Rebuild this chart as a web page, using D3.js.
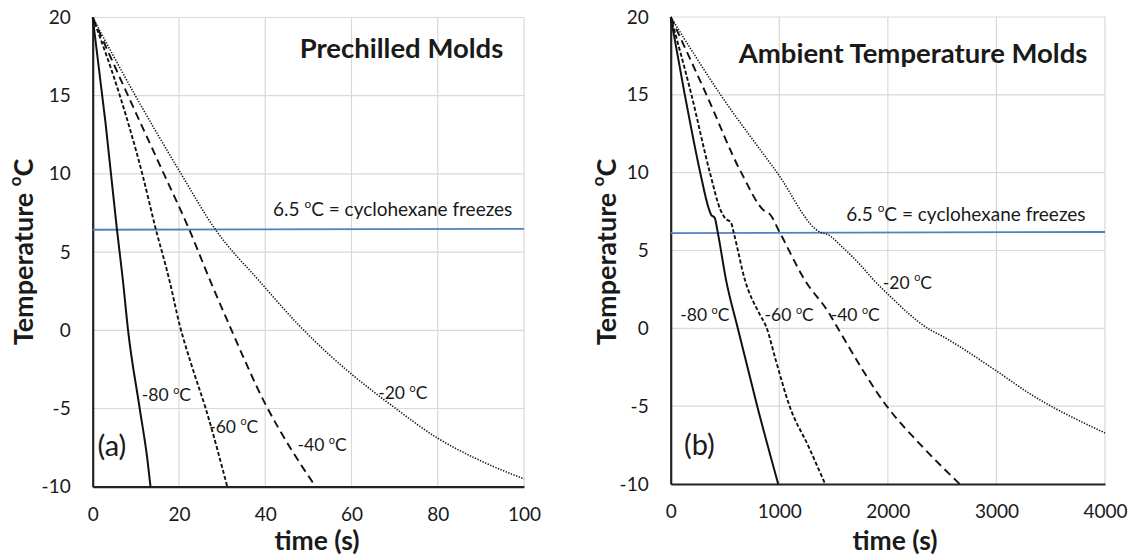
<!DOCTYPE html>
<html><head><meta charset="utf-8">
<script src="https://cdn.jsdelivr.net/npm/d3@7"></script>
<style>
body{margin:0;background:#fff}
svg{display:block}
text{font-family:Lato,"Open Sans",sans-serif;fill:#1a1a1a}
</style>
</head><body>
<svg id="c" width="1133" height="559"></svg>
<script>
// ---------- data ----------
const xTicksA = [0, 20, 40, 60, 80, 100];
const xTicksB = [0, 1000, 2000, 3000, 4000];
const yTicks = [-10, -5, 0, 5, 10, 15, 20];

const seriesNames = ["-80", "-60", "-40", "-20"];

// (a) prechilled molds: [time s, temperature C]
const prechilled80 = [[0,20],[3,13.2],[5.6,6.5],[7,3.2],[8.2,0],[10.9,-5],[12.7,-8.3],[13.4,-10]];
const prechilled60 = [[0,20],[6.3,15],[11.5,10],[14.6,6.5],[17.7,3.3],[20.2,0.3],[23,-2.3],[26.2,-5],[31.2,-10]];
const prechilled40 = [[0,20],[8.2,15],[16.5,10],[22.3,6.5],[27.2,3.2],[32.2,0],[40,-4.7],[46,-7.6],[51.7,-10]];
const prechilled20 = [[0,20],[9.9,15],[20.5,10],[28.3,6.5],[38.8,3.1],[47.9,0.3],[55,-1.6],[60,-2.8],[65,-3.9],[70,-4.95],[80,-6.9],[90,-8.35],[100,-9.5]];

// (b) ambient temperature molds
const ambient80 = [[0,20],[130,15],[272,10],[350,7.7],[372,7.3],[405,7.1],[435,6.1],[510,3.1],[618,0],[797,-5],[990,-10]];
const ambient60 = [[0,20],[191,15],[361,10],[459,7.6],[505,7.05],[555,6.8],[582,6.1],[684,3.1],[820,0.9],[880,0.1],[966,-2.0],[1095,-5],[1270,-7.6],[1422,-10]];
const ambient40 = [[0,20],[330,15],[650,10],[870,7.5],[910,7.35],[1005,6.15],[1235,3.1],[1456,1.0],[1540,0],[1990,-5],[2318,-7.6],[2662,-10]];
const ambient20 = [[0,20],[460,15],[980,10],[1385,6.15],[1440,6.05],[1573,5.27],[1756,4.0],[1870,3.1],[2030,2.0],[2183,1.0],[2366,0],[2500,-0.5],[3003,-2.75],[3297,-4.15],[4000,-6.72]];

// freezing-point reference line
const freezeA = [[0,6.43],[100,6.49]];
const freezeB = [[0,6.12],[4000,6.19]];

// series label anchor points (time, temperature)
const labelPosA = [[11.4,-4.1],[27,-6.1],[47.5,-7.3],[66.2,-3.96]];
const labelPosB = [[88,0.9],[865,0.9],[1473,0.9],[1954,3.0]];

const titleA = "Prechilled Molds";
const titleB = "Ambient Temperature Molds";
const freezeText = ["6.5 ", "C = cyclohexane freezes"];
const xTitle = "time (s)";
const yTitle = ["Temperature ", "C"];

// ---------- drawing ----------
const svg = d3.select("#c");
const dashes = [null, "4,2.2", "8,5", "1.3,1.5"];
const widths = [2, 1.9, 1.9, 1.6];

function degText(g, x, y, pre, post, size, opts = {}) {
  const t = g.append("text")
    .attr("x", x).attr("y", y)
    .attr("font-size", size)
    .attr("font-weight", opts.bold ? 700 : 400)
    .attr("text-anchor", opts.anchor || "start")
    .attr("dominant-baseline", "central");
  if (opts.transform) t.attr("transform", opts.transform);
  t.append("tspan").text(pre);
  const s = size * 0.62;
  t.append("tspan").attr("font-size", s).attr("dy", -size * 0.3).text("o");
  t.append("tspan").attr("dy", size * 0.3).text(post);
  return t;
}

function panel(cfg) {
  const g = svg.append("g");
  const x = d3.scaleLinear().domain(cfg.xDomain).range([cfg.left, cfg.right]);
  const y = d3.scaleLinear().domain([-10, 20]).range([cfg.bottom, cfg.top]);

  // grid
  g.append("g").selectAll("line").data(cfg.xTicks.slice(1)).join("line")
    .attr("x1", d => x(d)).attr("x2", d => x(d))
    .attr("y1", cfg.top).attr("y2", cfg.bottom)
    .attr("stroke", "#d9d9d9").attr("stroke-width", 1.2);
  g.append("g").selectAll("line").data(yTicks.slice(1)).join("line")
    .attr("x1", cfg.left).attr("x2", cfg.right)
    .attr("y1", d => y(d)).attr("y2", d => y(d))
    .attr("stroke", "#d9d9d9").attr("stroke-width", 1.2);

  // axes via d3
  const fmt = d => String(d);
  const ax = g.append("g").attr("transform", `translate(0,${cfg.bottom})`)
    .call(d3.axisBottom(x).tickValues(cfg.xTicks).tickSize(0).tickPadding(21).tickFormat(fmt));
  ax.select(".domain").attr("stroke", "#222").attr("stroke-width", 2.2);
  ax.selectAll("text").attr("font-size", 19).attr("font-family", "Lato").attr("fill", "#1a1a1a");
  const ay = g.append("g").attr("transform", `translate(${cfg.left},0)`)
    .call(d3.axisLeft(y).tickValues(yTicks).tickSize(0).tickPadding(22).tickFormat(fmt));
  ay.select(".domain").attr("stroke", "#222").attr("stroke-width", 2.2);
  ay.selectAll("text").attr("font-size", 19).attr("font-family", "Lato").attr("fill", "#1a1a1a");

  // freeze line
  const line = d3.line().x(d => x(d[0])).y(d => y(d[1]));
  g.append("path").datum(cfg.freeze).attr("d", line)
    .attr("fill", "none").attr("stroke", "#4f81bd").attr("stroke-width", 1.8);

  // series
  const curve = d3.line().x(d => x(d[0])).y(d => y(d[1])).curve(d3.curveMonotoneX);
  cfg.series.forEach((s, i) => {
    g.append("path").datum(s).attr("d", curve)
      .attr("fill", "none").attr("stroke", "#111")
      .attr("stroke-width", widths[i])
      .attr("stroke-dasharray", dashes[i]);
  });

  // series labels
  seriesNames.forEach((n, i) => {
    const p = cfg.labels[i];
    degText(g, x(p[0]), y(p[1]), n + " ", "C", 17.5);
  });

  // panel letter
  g.append("text").attr("x", x(cfg.letterPos[0])).attr("y", y(cfg.letterPos[1]))
    .attr("dominant-baseline", "central").attr("font-size", 29).text(cfg.letter);

  // title
  g.append("text").attr("x", x(cfg.titlePos[0])).attr("y", y(cfg.titlePos[1]))
    .attr("text-anchor", "end").attr("dominant-baseline", "central")
    .attr("font-size", 27.5).attr("font-weight", 700).text(cfg.title);

  // freeze label
  degText(g, x(cfg.freezeLabelPos[0]), y(cfg.freezeLabelPos[1]), freezeText[0], freezeText[1], 19, {anchor: "end"});

  // axis titles
  g.append("text").attr("x", cfg.xTitleX).attr("y", 540)
    .attr("text-anchor", "middle").attr("dominant-baseline", "central")
    .attr("font-size", 26.5).attr("font-weight", 700).text(xTitle);
  degText(g, 0, 0, yTitle[0], yTitle[1], 27,
    {bold: true, anchor: "middle", transform: `translate(${cfg.yTitleX},252) rotate(-90)`});
}

panel({
  xDomain: [0, 100], xTicks: xTicksA,
  left: 92.7, right: 524, top: 17.5, bottom: 486.7,
  series: [prechilled80, prechilled60, prechilled40, prechilled20],
  freeze: freezeA, labels: labelPosA,
  letter: "(a)", letterPos: [1.1, -7.3],
  title: titleA, titlePos: [95.2, 18.1],
  freezeLabelPos: [97.3, 7.8],
  xTitleX: 317, yTitleX: 22
});
panel({
  xDomain: [0, 4000], xTicks: xTicksB,
  left: 670.7, right: 1105, top: 17, bottom: 484,
  series: [ambient80, ambient60, ambient40, ambient20],
  freeze: freezeB, labels: labelPosB,
  letter: "(b)", letterPos: [122, -7.4],
  title: titleB, titlePos: [3838, 17.7],
  freezeLabelPos: [3821, 7.4],
  xTitleX: 895, yTitleX: 605
});
</script>
</body></html>
